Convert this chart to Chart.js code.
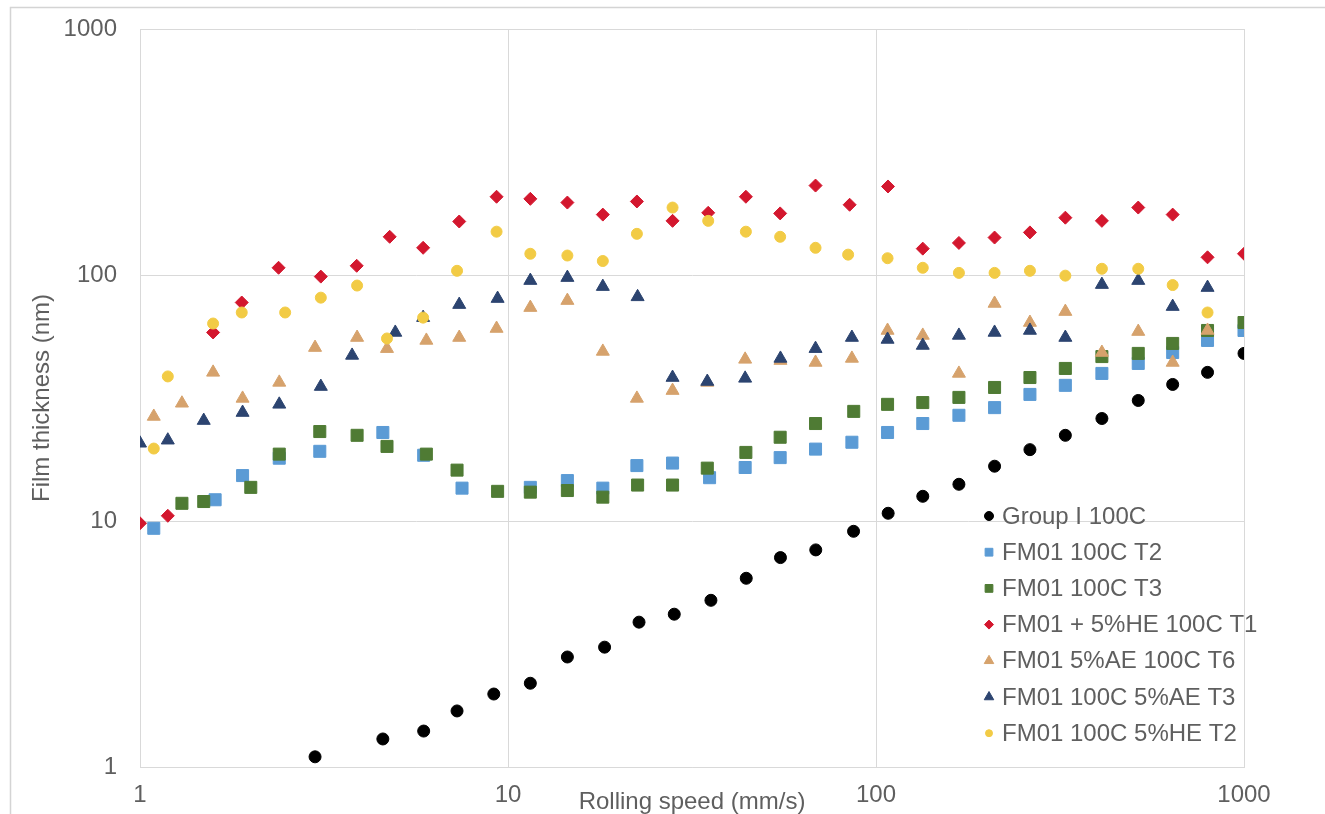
<!DOCTYPE html>
<html>
<head>
<meta charset="utf-8">
<script src="https://cdn.jsdelivr.net/npm/chart.js@4/dist/chart.umd.min.js"></script>
<style>
  html, body { margin: 0; padding: 0; background: #ffffff; }
  #wrap { width: 1325px; height: 814px; position: relative; }
</style>
</head>
<body>
<div id="wrap"><canvas id="film" width="1325" height="814"></canvas></div>
<script>
// Rolling speed (mm/s) and film thickness (nm) for each test run
const groupI_speed = [2.99, 4.57, 5.9, 7.27, 9.15, 11.5, 14.5, 18.3, 22.7, 28.3, 35.6, 44.4, 55.0, 68.6, 86.9, 107.9, 134, 168, 210, 262, 327, 411, 516, 640, 796, 1000];
const groupI_film  = [1.10, 1.30, 1.40, 1.69, 1.98, 2.19, 2.80, 3.07, 3.88, 4.18, 4.76, 5.85, 7.10, 7.63, 9.08, 10.75, 12.6, 14.1, 16.7, 19.5, 22.3, 26.1, 30.9, 35.9, 40.2, 48.0];

const fm01T2_speed = [1.09, 1.60, 1.90, 2.39, 3.08, 4.57, 5.9, 7.5, 11.5, 14.5, 18.1, 22.4, 28.0, 35.3, 44.1, 54.9, 68.5, 86, 107.5, 134, 168, 210, 262, 327, 411, 516, 640, 796, 1000];
const fm01T2_film  = [9.34, 12.2, 15.3, 18.0, 19.2, 22.9, 18.5, 13.6, 13.7, 14.6, 13.6, 16.8, 17.2, 15.0, 16.5, 18.1, 19.6, 20.9, 22.9, 24.9, 26.9, 28.9, 32.7, 35.6, 39.8, 43.7, 48.4, 54.2, 59.5];

const fm01T3_speed = [1.30, 1.49, 2.00, 2.39, 3.08, 3.89, 4.69, 6.0, 7.27, 9.37, 11.5, 14.5, 18.1, 22.5, 28.0, 34.8, 44.3, 54.9, 68.5, 87, 107.5, 134, 168, 210, 262, 327, 411, 516, 640, 796, 1000];
const fm01T3_film  = [11.8, 12.0, 13.7, 18.7, 23.1, 22.3, 20.1, 18.7, 16.1, 13.2, 13.1, 13.3, 12.5, 14.0, 14.0, 16.4, 19.0, 21.9, 24.9, 27.9, 29.8, 30.3, 31.8, 34.9, 38.3, 41.7, 46.6, 48.0, 52.7, 59.5, 64.1];

const fm01HE_T1_speed = [1.00, 1.19, 1.58, 1.89, 2.38, 3.10, 3.88, 4.77, 5.88, 7.37, 9.31, 11.5, 14.5, 18.1, 22.4, 28.0, 35.0, 44.3, 54.9, 68.5, 84.8, 107.8, 134, 168, 210, 262, 327, 411, 516, 640, 796, 1000];
const fm01HE_T1_film  = [9.79, 10.5, 58.4, 77.3, 107, 98.5, 109, 143, 129, 165, 208, 204, 197, 176, 199, 166, 179, 208, 178, 231, 193, 229, 128, 135, 142, 149, 171, 166, 188, 176, 118, 122];

const fm01AE_T6_speed = [1.09, 1.30, 1.58, 1.90, 2.39, 2.99, 3.89, 4.69, 6.0, 7.37, 9.31, 11.5, 14.5, 18.1, 22.4, 28.0, 34.8, 44.1, 55.0, 68.5, 86, 107.5, 134, 168, 210, 262, 327, 411, 516, 640, 796];
const fm01AE_T6_film  = [26.6, 30.1, 40.2, 31.5, 36.6, 50.7, 55.7, 50.2, 54.2, 55.7, 60.6, 73.7, 78.7, 48.9, 31.5, 33.9, 36.6, 45.4, 44.9, 44.1, 45.8, 59.5, 56.8, 39.8, 76.6, 64.1, 71.0, 48.4, 58.9, 44.1, 59.5];

const fm01AE_T3_speed = [1.00, 1.19, 1.49, 1.90, 2.39, 3.10, 3.77, 4.94, 5.88, 7.37, 9.37, 11.5, 14.5, 18.1, 22.5, 28.0, 34.8, 44.1, 55.0, 68.5, 86, 107.5, 134, 168, 210, 262, 327, 411, 516, 640, 796];
const fm01AE_T3_film  = [20.7, 21.3, 25.6, 27.6, 29.8, 35.2, 47.1, 58.4, 67.1, 75.8, 80.2, 94.9, 97.6, 89.7, 81.5, 38.3, 36.9, 38.0, 45.8, 50.2, 55.7, 54.7, 51.7, 56.8, 58.4, 59.5, 55.7, 91.4, 94.9, 74.4, 88.9];

const fm01HE_T2_speed = [1.09, 1.19, 1.58, 1.89, 2.48, 3.10, 3.89, 4.69, 5.88, 7.27, 9.31, 11.5, 14.5, 18.1, 22.4, 28.0, 35.0, 44.3, 54.9, 68.5, 84, 107.5, 134, 168, 210, 262, 327, 411, 516, 640, 796];
const fm01HE_T2_film  = [19.7, 38.7, 63.5, 70.4, 70.4, 80.9, 90.6, 55.2, 67.1, 104, 150, 122, 120, 114, 147, 188, 166, 150, 143, 129, 121, 117, 107, 102, 102, 104, 99.4, 106, 106, 91, 70.4];

const seriesNames = [
  'Group I 100C',
  'FM01 100C T2',
  'FM01 100C T3',
  'FM01 + 5%HE 100C T1',
  'FM01 5%AE 100C T6',
  'FM01 100C 5%AE T3',
  'FM01 100C 5%HE T2'
];

const xTickValues = [1, 10, 100, 1000];
const yTickValues = [1, 10, 100, 1000];

const xTitle = 'Rolling speed (mm/s)';
const yTitle = 'Film thickness (nm)';

// marker look per series
const seriesStyle = [
  { color: '#000000', style: 'circle',   radius: 6,   legendRadius: 4.5 },
  { color: '#5B9BD5', style: 'rect',     radius: 8.5, legendRadius: 5.5 },
  { color: '#4F7B34', style: 'rect',     radius: 8.5, legendRadius: 5.5 },
  { color: '#D3172E', style: 'rectRot',  radius: 6.5, legendRadius: 4.5 },
  { color: '#D6A26C', style: 'triangle', radius: 7.5, legendRadius: 5.5 },
  { color: '#2C4470', style: 'triangle', radius: 7.5, legendRadius: 5.5 },
  { color: '#F2CB45', style: 'circle',   radius: 5.5, legendRadius: 3.5 }
];

const speedLists = [groupI_speed, fm01T2_speed, fm01T3_speed, fm01HE_T1_speed, fm01AE_T6_speed, fm01AE_T3_speed, fm01HE_T2_speed];
const filmLists  = [groupI_film, fm01T2_film, fm01T3_film, fm01HE_T1_film, fm01AE_T6_film, fm01AE_T3_film, fm01HE_T2_film];

const FONT = '"Liberation Sans", Arial, sans-serif';
const TEXT_COLOR = '#5f5f5f';
const GRID_COLOR = '#d9d9d9';

const datasets = seriesNames.map((name, i) => ({
  label: name,
  data: speedLists[i].map((s, k) => ({ x: s, y: filmLists[i][k] })),
  pointStyle: seriesStyle[i].style,
  pointRadius: seriesStyle[i].radius,
  pointHoverRadius: seriesStyle[i].radius,
  backgroundColor: seriesStyle[i].color,
  borderColor: seriesStyle[i].color,
  pointBorderWidth: 1,
  showLine: false,
  legendRadius: seriesStyle[i].legendRadius,
  // later series are painted over earlier ones
  order: seriesNames.length - 1 - i
}));

// light frame round the whole chart
const framePlugin = {
  id: 'frame',
  beforeDraw(chart) {
    const ctx = chart.ctx;
    ctx.save();
    ctx.strokeStyle = '#d4d4d4';
    ctx.lineWidth = 1.5;
    ctx.beginPath();
    ctx.moveTo(10.5, chart.height);
    ctx.lineTo(10.5, 7.5);
    ctx.lineTo(chart.width, 7.5);
    ctx.stroke();
    ctx.restore();
  }
};

// axis titles
const titlePlugin = {
  id: 'axisTitles',
  afterDraw(chart) {
    const ctx = chart.ctx;
    const area = chart.chartArea;
    ctx.save();
    ctx.fillStyle = TEXT_COLOR;
    ctx.font = '24px ' + FONT;
    ctx.textAlign = 'center';
    ctx.textBaseline = 'middle';
    ctx.fillText(xTitle, (area.left + area.right) / 2, 802);
    ctx.translate(42, (area.top + area.bottom) / 2);
    ctx.rotate(-Math.PI / 2);
    ctx.fillText(yTitle, 0, 0);
    ctx.restore();
  }
};

// legend placed inside the plot, lower right
const legendPlugin = {
  id: 'insideLegend',
  afterDraw(chart) {
    const ctx = chart.ctx;
    const markerX = 989, textX = 1002, firstY = 516, rowGap = 36.2;
    ctx.save();
    ctx.font = '24px ' + FONT;
    ctx.textAlign = 'left';
    ctx.textBaseline = 'middle';
    chart.data.datasets.forEach((ds, i) => {
      const y = firstY + i * rowGap;
      ctx.fillStyle = ds.backgroundColor;
      ctx.strokeStyle = ds.borderColor;
      ctx.lineWidth = 1;
      Chart.helpers.drawPoint(ctx, {
        pointStyle: ds.pointStyle,
        radius: ds.legendRadius,
        rotation: 0,
        borderWidth: 1
      }, markerX, y);
      ctx.fillStyle = TEXT_COLOR;
      ctx.fillText(ds.label, textX, y + 1);
    });
    ctx.restore();
  }
};

new Chart(document.getElementById('film'), {
  type: 'scatter',
  data: { datasets },
  plugins: [framePlugin, titlePlugin, legendPlugin],
  options: {
    responsive: false,
    animation: false,
    devicePixelRatio: 1,
    layout: { padding: { left: 0, top: 29, right: 81, bottom: 0 } },
    plugins: {
      legend: { display: false },
      tooltip: { enabled: false },
      title: { display: false }
    },
    scales: {
      x: {
        type: 'logarithmic',
        min: 1,
        max: 1000,
        afterBuildTicks: (scale) => { scale.ticks = xTickValues.map(v => ({ value: v })); },
        afterFit: (scale) => { scale.height = 47; scale.paddingLeft = 0; scale.paddingRight = 0; },
        grid: { color: GRID_COLOR, lineWidth: 1, drawTicks: false },
        border: { display: true, color: GRID_COLOR, width: 1 },
        ticks: {
          padding: 14,
          color: TEXT_COLOR,
          font: { family: FONT, size: 24 },
          maxRotation: 0,
          autoSkip: false,
          callback: (v) => String(v)
        }
      },
      y: {
        type: 'logarithmic',
        min: 1,
        max: 1000,
        afterBuildTicks: (scale) => { scale.ticks = yTickValues.map(v => ({ value: v })); },
        afterFit: (scale) => { scale.width = 140; scale.paddingTop = 0; scale.paddingBottom = 0; },
        grid: { color: GRID_COLOR, lineWidth: 1, drawTicks: false },
        border: { display: true, color: GRID_COLOR, width: 1 },
        ticks: {
          padding: 23,
          color: TEXT_COLOR,
          font: { family: FONT, size: 24 },
          autoSkip: false,
          callback: (v) => String(v)
        }
      }
    }
  }
});
</script>
</body>
</html>
